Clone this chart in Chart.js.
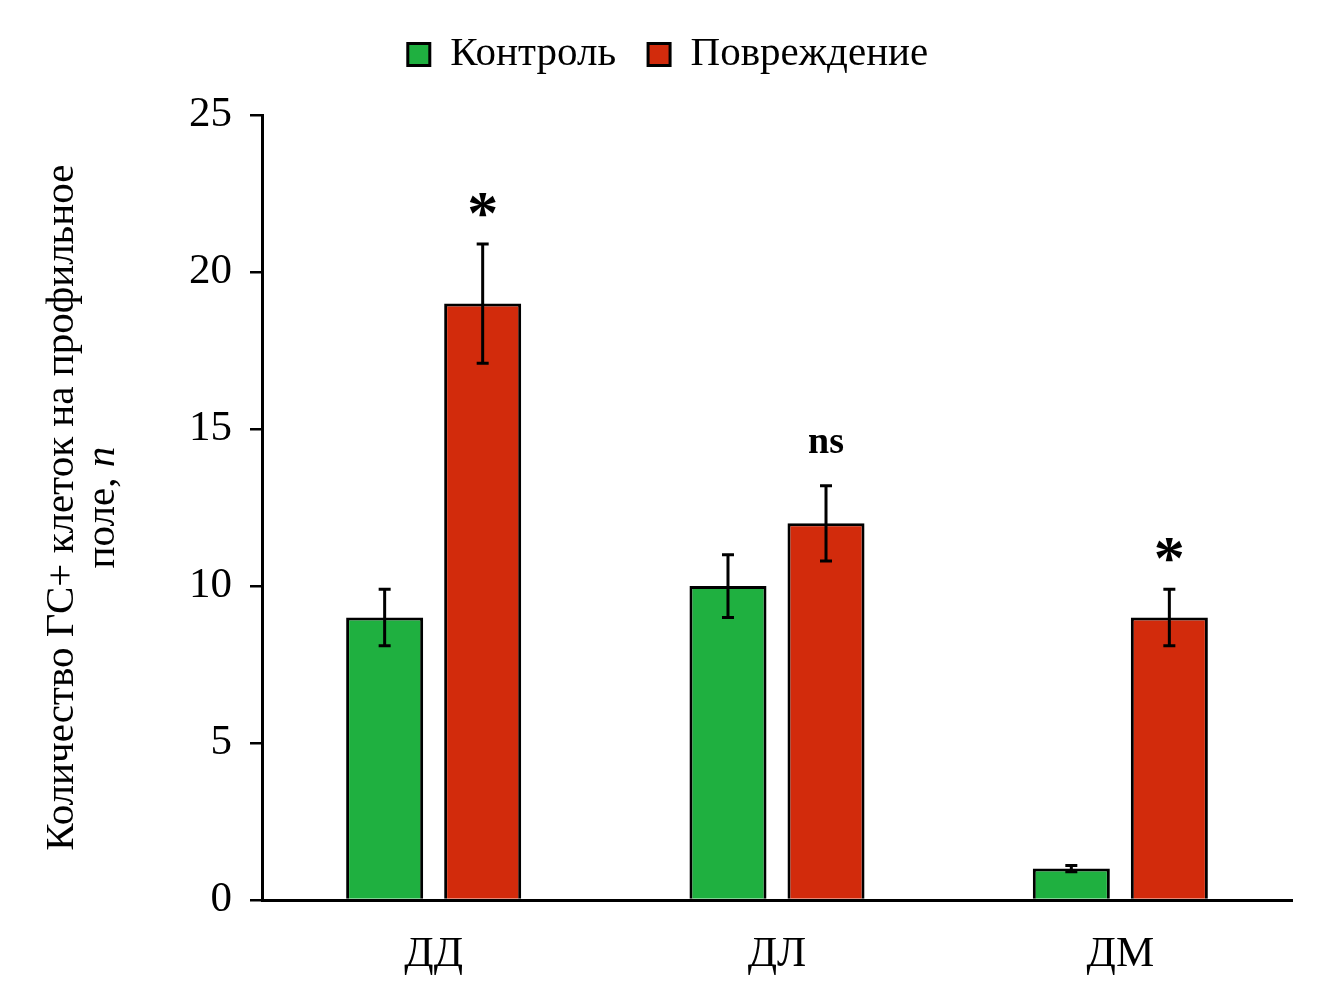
<!DOCTYPE html>
<html>
<head>
<meta charset="utf-8">
<script src="https://cdn.jsdelivr.net/npm/chart.js@4.4.1/dist/chart.umd.min.js"></script>
<style>
	html, body { margin: 0; padding: 0; background: #fff; }
	#wrap { width: 1325px; height: 983px; }
</style>
</head>
<body>
<div id="wrap"><canvas id="chart" width="1325" height="983"></canvas></div>
<script>
	// data
	var categories = ['ДД', 'ДЛ', 'ДМ'];
	var control = [9, 10, 1];
	var controlErr = [0.9, 1.0, 0.1];
	var injury = [19, 12, 9];
	var injuryErr = [1.9, 1.2, 0.9];
	var injuryMarks = ['*', 'ns', '*'];
	var yTicks = [0, 5, 10, 15, 20, 25];

	var serif = "'Liberation Serif', 'Times New Roman', serif";

	// error bars + significance marks
	var errorBars = {
		id: 'errorBars',
		afterDatasetsDraw: function(chart) {
			var ctx = chart.ctx;
			var y = chart.scales.y;
			ctx.save();
			ctx.strokeStyle = '#000';
			ctx.lineWidth = 3;
			chart.data.datasets.forEach(function(ds, di) {
				var meta = chart.getDatasetMeta(di);
				meta.data.forEach(function(bar, i) {
					var v = ds.data[i], e = ds.errors[i];
					var top = y.getPixelForValue(v + e);
					var bot = y.getPixelForValue(v - e);
					ctx.beginPath();
					ctx.moveTo(bar.x, top); ctx.lineTo(bar.x, bot);
					ctx.moveTo(bar.x - 6, top); ctx.lineTo(bar.x + 6, top);
					ctx.moveTo(bar.x - 6, bot); ctx.lineTo(bar.x + 6, bot);
					ctx.stroke();
					if (ds.marks && ds.marks[i]) {
						var m = ds.marks[i];
						ctx.fillStyle = '#000';
						ctx.textAlign = 'center';
						ctx.textBaseline = 'alphabetic';
						if (m === '*') {
							ctx.font = 'bold 62px ' + serif;
							ctx.fillText(m, bar.x, top - 11);
						} else {
							ctx.font = 'bold 38px ' + serif;
							ctx.fillText(m, bar.x, top - 33);
						}
					}
				});
			});
			ctx.restore();
		}
	};

	// y axis title, two lines, italic n
	var yTitle = {
		id: 'yTitle',
		afterDraw: function(chart) {
			var ctx = chart.ctx;
			var a = chart.chartArea;
			var cy = (a.top + a.bottom) / 2;
			var f = '41px ' + serif;
			ctx.save();
			ctx.fillStyle = '#000';
			ctx.textBaseline = 'middle';
			ctx.translate(62, cy);
			ctx.rotate(-Math.PI / 2);
			ctx.font = f;
			ctx.textAlign = 'center';
			ctx.fillText('Количество ГС+ клеток на профильное', 0, 0);
			var p1 = 'поле, ';
			var w1 = ctx.measureText(p1).width;
			ctx.font = 'italic ' + f;
			var w2 = ctx.measureText('n').width;
			var x0 = -(w1 + w2) / 2;
			ctx.textAlign = 'left';
			ctx.font = f;
			ctx.fillText(p1, x0, 41);
			ctx.font = 'italic ' + f;
			ctx.fillText('n', x0 + w1, 41);
			ctx.restore();
		}
	};

	// nudge legend a bit to the right, like in the original figure
	var legendShift = {
		id: 'legendShift',
		afterLayout: function(chart) {
			if (chart.legend) {
				chart.legend.left += 22;
				chart.legend.right += 22;
			}
		}
	};

	var chart = new Chart(document.getElementById('chart'), {
		type: 'bar',
		data: {
			labels: categories,
			datasets: [{
				label: 'Контроль',
				data: control,
				errors: controlErr,
				backgroundColor: '#1fb040',
				borderColor: '#000',
				borderWidth: 3
			}, {
				label: 'Повреждение',
				data: injury,
				errors: injuryErr,
				marks: injuryMarks,
				backgroundColor: '#d22b0c',
				borderColor: '#000',
				borderWidth: 3
			}]
		},
		options: {
			responsive: false,
			animation: false,
			categoryPercentage: 0.571,
			barPercentage: 0.786,
			layout: { padding: { left: 0, right: 33, top: 2, bottom: 0 } },
			plugins: {
				legend: {
					position: 'top',
					labels: {
						color: '#000',
						font: { family: serif, size: 41 },
						boxWidth: 22,
						boxHeight: 22,
						padding: 32
					}
				},
				// empty title used as a spacer between legend and plot
				title: {
					display: true,
					text: '',
					weight: 500,
					font: { size: 1 },
					padding: { top: 0, bottom: 29 }
				},
				tooltip: { enabled: false }
			},
			scales: {
				x: {
					grid: { display: false },
					border: { display: true, color: '#000', width: 3 },
					ticks: { color: '#000', font: { family: serif, size: 43 }, padding: 21 },
					afterFit: function(s) { s.height = 83; }
				},
				y: {
					min: 0,
					max: 25,
					afterBuildTicks: function(s) {
						s.ticks = yTicks.map(function(v) { return { value: v }; });
					},
					grid: { drawOnChartArea: false, color: '#000', lineWidth: 2.5, tickLength: 12 },
					border: { display: true, color: '#000', width: 3 },
					ticks: { color: '#000', font: { family: serif, size: 43 }, padding: 18 },
					afterFit: function(s) { s.width = 262; }
				}
			}
		},
		plugins: [errorBars, yTitle, legendShift]
	});
</script>
</body>
</html>
